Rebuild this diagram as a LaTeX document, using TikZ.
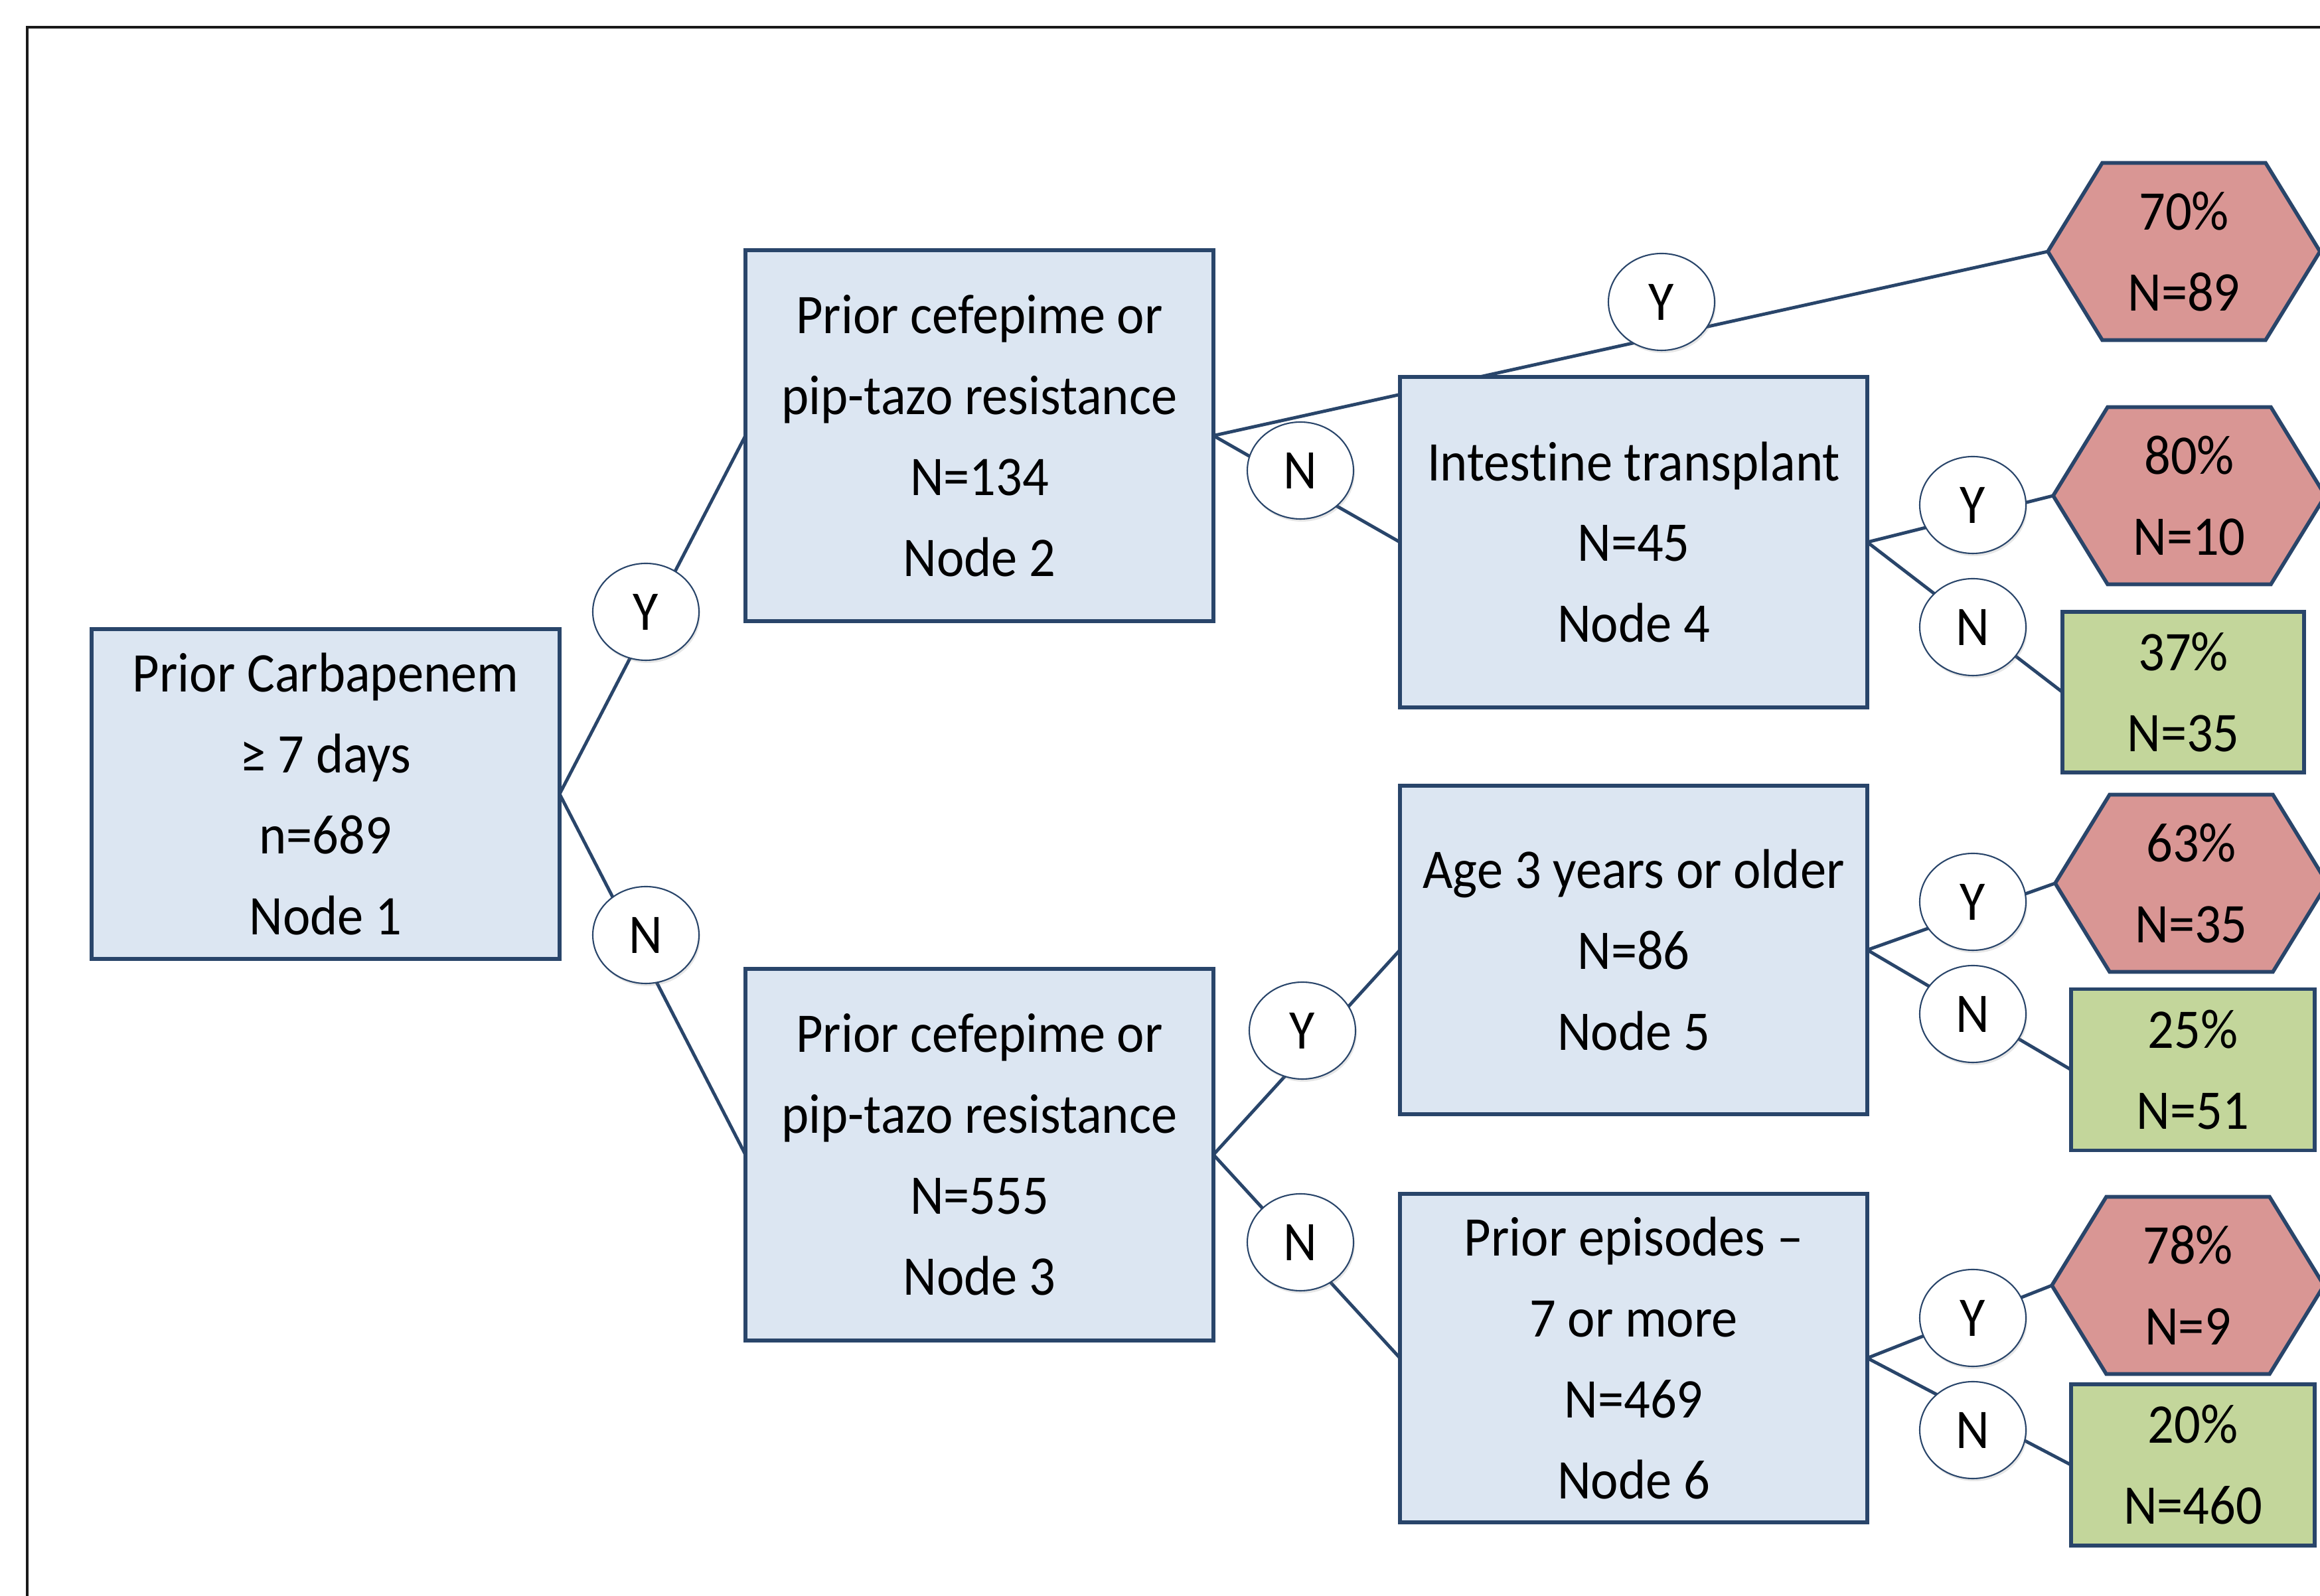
\documentclass[tikz,border=0pt]{standalone}
\usepackage{fontspec}
\setmainfont{Carlito}[FakeStretch=0.93,Ligatures={NoCommon,NoContextual},RawFeature={-calt;-clig;-dlig}]
\usetikzlibrary{shapes.geometric,backgrounds,shadows}
\definecolor{sotetkek}{HTML}{29456A}
\definecolor{halvanykek}{HTML}{DCE6F2}
\definecolor{halvanypiros}{HTML}{D99694}
\definecolor{halvanyzold}{HTML}{C3D69B}
\tikzset{
  doboz/.style={draw=sotetkek,line width=1.7pt,fill=halvanykek,minimum width=7.05cm,
    align=center,inner sep=0pt,outer sep=0pt},
  ovalis/.style={ellipse,draw=sotetkek,line width=0.6pt,fill=white,minimum width=1.6cm,
    minimum height=1.46cm,inner sep=0pt,outer sep=0pt,
    drop shadow={opacity=0.2,shadow xshift=0.02cm,shadow yshift=-0.04cm}},
  hatszog/.style={minimum width=4.1cm,minimum height=2.67cm,align=center,inner sep=0pt,outer sep=0pt},
  hatvonal/.style={draw=sotetkek,line width=1.6pt,fill=halvanypiros},
  zold/.style={draw=sotetkek,line width=1.7pt,fill=halvanyzold,minimum width=3.67cm,
    minimum height=2.43cm,align=center,inner sep=0pt,outer sep=0pt},
  vonal/.style={draw=sotetkek,line width=1.4pt},
}

\begin{document}
\begin{tikzpicture}[font=\fontsize{24}{34.7}\selectfont]
  \useasboundingbox (0,0) rectangle (34.95,24.04);
  \draw[line width=0.9pt,black!90] (0.41,-1) -- (0.41,23.63) -- (36,23.63);
  % dontesi csomopontok
  \node[doboz,minimum height=4.97cm] (b1) at (4.905,12.075) {Prior Carbapenem\\≥ 7 days\\n=689\\Node 1};
  \node[doboz,minimum height=5.59cm] (b2) at (14.755,17.475) {Prior cefepime or\\pip-tazo resistance\\N=134\\Node 2};
  \node[doboz,minimum height=5.6cm] (b3) at (14.755,6.64) {Prior cefepime or\\pip-tazo resistance\\N=555\\Node 3};
  \node[doboz,minimum width=7.04cm,minimum height=4.98cm] (b4) at (24.61,15.87) {Intest\kern0pt ine transplant\\N=45\\Node 4};
  \node[doboz,minimum width=7.04cm,minimum height=4.95cm] (b5) at (24.61,9.725) {Age 3 years or older\\N=86\\Node 5};
  \node[doboz,minimum width=7.04cm,minimum height=4.95cm] (b6) at (24.61,3.575) {Prior episodes --\\7 or more\\N=469\\Node 6};
  % levelek
  \node[hatszog] (h1) at (32.90,20.25) {70\%\\N=89};
  \node[hatszog] (h2) at (32.98,16.57) {80\%\\N=10};
  \node[zold,minimum width=3.64cm,minimum height=2.42cm] (g1) at (32.89,13.61) {37\%\\N=35};
  \node[hatszog] (h3) at (33.01,10.73) {63\%\\N=35};
  \node[zold] (g2) at (33.035,7.92) {25\%\\N=51};
  \node[hatszog] (h4) at (32.96,4.67) {78\%\\N=9};
  \node[zold] (g3) at (33.035,1.965) {20\%\\N=460};
  % igen / nem
  \node[ovalis] (y1) at (9.73,14.82) {Y};
  \node[ovalis] (n1) at (9.73,9.95) {N};
  \node[ovalis] (y2) at (25.03,19.49) {Y};
  \node[ovalis] (n2) at (19.59,16.95) {N};
  \node[ovalis] (y3) at (19.62,8.51) {Y};
  \node[ovalis] (n3) at (19.59,5.32) {N};
  \node[ovalis] (y4) at (29.72,16.43) {Y};
  \node[ovalis] (n4) at (29.72,14.59) {N};
  \node[ovalis] (y5) at (29.72,10.45) {Y};
  \node[ovalis] (n5) at (29.72,8.76) {N};
  \node[ovalis] (y6) at (29.72,4.18) {Y};
  \node[ovalis] (n6) at (29.72,2.49) {N};
  \begin{scope}[on background layer]
    \foreach \h in {h1,h2,h3,h4}
      \draw[hatvonal] (\h.west) -- ([xshift=8.2mm]\h.north west) -- ([xshift=-8.2mm]\h.north east)
        -- (\h.east) -- ([xshift=-8.2mm]\h.south east) -- ([xshift=8.2mm]\h.south west) -- cycle;
    \draw[vonal] (b1.east) -- (b2.west);
    \draw[vonal] (b1.east) -- (b3.west);
    \draw[vonal] (b2.east) -- (h1.west);
    \draw[vonal] (b2.east) -- (b4.west);
    \draw[vonal] (b3.east) -- (b5.west);
    \draw[vonal] (b3.east) -- (b6.west);
    \draw[vonal] (b4.east) -- (h2.west);
    \draw[vonal] (b4.east) -- (g1.west);
    \draw[vonal] (b5.east) -- (h3.west);
    \draw[vonal] (b5.east) -- (g2.west);
    \draw[vonal] (b6.east) -- (h4.west);
    \draw[vonal] (b6.east) -- (g3.west);
  \end{scope}
\end{tikzpicture}
\end{document}
